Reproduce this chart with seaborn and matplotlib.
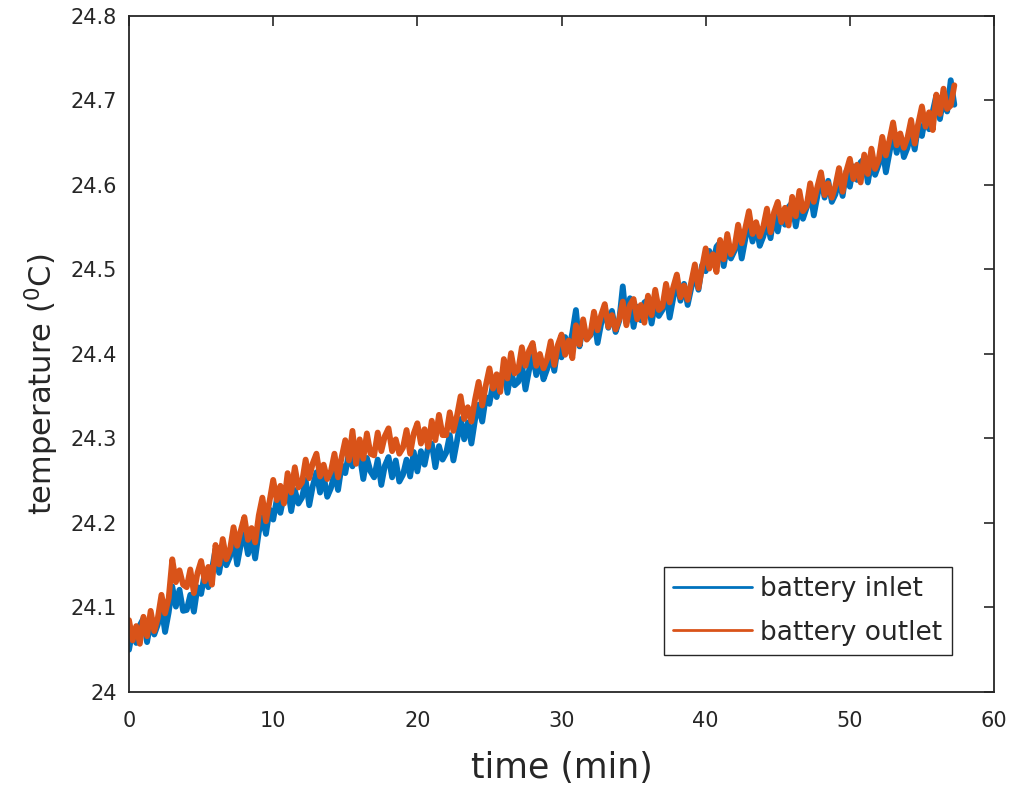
import numpy as np
import pandas as pd
import matplotlib
matplotlib.use('Agg')
import matplotlib.pyplot as plt
import seaborn as sns

# sample clock: one reading every 0.25 min
time_min = np.arange(230) * 0.25

# battery inlet temperature (deg C)
inlet = [
    24.050, 24.074, 24.058, 24.079, 24.087, 24.059, 24.084, 24.068,
    24.080, 24.101, 24.071, 24.094, 24.125, 24.101, 24.121, 24.096,
    24.097, 24.115, 24.095, 24.124, 24.116, 24.140, 24.124, 24.145,
    24.169, 24.141, 24.166, 24.150, 24.160, 24.181, 24.151, 24.174,
    24.187, 24.163, 24.183, 24.158, 24.189, 24.207, 24.187, 24.216,
    24.204, 24.228, 24.212, 24.233, 24.242, 24.214, 24.239, 24.223,
    24.230, 24.251, 24.221, 24.244, 24.260, 24.236, 24.256, 24.231,
    24.241, 24.259, 24.239, 24.268, 24.259, 24.283, 24.267, 24.288,
    24.280, 24.252, 24.277, 24.261, 24.254, 24.275, 24.245, 24.268,
    24.278, 24.254, 24.274, 24.249, 24.257, 24.275, 24.255, 24.284,
    24.261, 24.285, 24.269, 24.290, 24.294, 24.266, 24.291, 24.275,
    24.283, 24.304, 24.274, 24.297, 24.323, 24.299, 24.319, 24.294,
    24.322, 24.340, 24.320, 24.349, 24.341, 24.365, 24.349, 24.370,
    24.382, 24.354, 24.379, 24.363, 24.367, 24.388, 24.358, 24.381,
    24.399, 24.375, 24.395, 24.370, 24.382, 24.400, 24.380, 24.409,
    24.396, 24.420, 24.404, 24.425, 24.452, 24.409, 24.434, 24.418,
    24.422, 24.443, 24.413, 24.436, 24.455, 24.431, 24.451, 24.426,
    24.439, 24.480, 24.437, 24.466, 24.432, 24.456, 24.440, 24.461,
    24.464, 24.436, 24.461, 24.445, 24.452, 24.473, 24.443, 24.466,
    24.487, 24.463, 24.483, 24.458, 24.478, 24.496, 24.476, 24.505,
    24.498, 24.522, 24.506, 24.527, 24.532, 24.504, 24.529, 24.513,
    24.522, 24.543, 24.513, 24.536, 24.557, 24.533, 24.553, 24.528,
    24.539, 24.557, 24.537, 24.566, 24.545, 24.569, 24.553, 24.574,
    24.579, 24.551, 24.576, 24.560, 24.573, 24.594, 24.564, 24.587,
    24.609, 24.585, 24.605, 24.580, 24.589, 24.607, 24.587, 24.616,
    24.598, 24.622, 24.606, 24.627, 24.631, 24.603, 24.628, 24.612,
    24.624, 24.645, 24.615, 24.638, 24.662, 24.638, 24.658, 24.633,
    24.644, 24.662, 24.642, 24.671, 24.658, 24.682, 24.666, 24.687,
    24.706, 24.678, 24.703, 24.687, 24.724, 24.695,
]

# battery outlet temperature (deg C)
outlet = [
    24.085, 24.061, 24.078, 24.057, 24.089, 24.066, 24.096, 24.072,
    24.088, 24.115, 24.093, 24.111, 24.157, 24.130, 24.144, 24.127,
    24.124, 24.145, 24.117, 24.141, 24.155, 24.131, 24.148, 24.127,
    24.174, 24.151, 24.181, 24.157, 24.168, 24.195, 24.173, 24.191,
    24.207, 24.180, 24.194, 24.177, 24.209, 24.230, 24.202, 24.226,
    24.251, 24.227, 24.244, 24.223, 24.259, 24.236, 24.266, 24.242,
    24.248, 24.275, 24.253, 24.271, 24.282, 24.255, 24.269, 24.252,
    24.261, 24.282, 24.254, 24.278, 24.298, 24.274, 24.309, 24.270,
    24.299, 24.276, 24.306, 24.282, 24.280, 24.307, 24.285, 24.303,
    24.312, 24.285, 24.299, 24.282, 24.289, 24.310, 24.282, 24.306,
    24.318, 24.294, 24.311, 24.290, 24.321, 24.298, 24.328, 24.304,
    24.304, 24.331, 24.309, 24.327, 24.350, 24.323, 24.337, 24.320,
    24.346, 24.367, 24.339, 24.363, 24.383, 24.359, 24.376, 24.355,
    24.394, 24.371, 24.401, 24.377, 24.381, 24.408, 24.386, 24.404,
    24.413, 24.386, 24.400, 24.383, 24.394, 24.415, 24.387, 24.411,
    24.423, 24.399, 24.416, 24.395, 24.434, 24.411, 24.441, 24.417,
    24.423, 24.450, 24.428, 24.446, 24.459, 24.432, 24.446, 24.429,
    24.441, 24.462, 24.434, 24.458, 24.465, 24.441, 24.458, 24.437,
    24.469, 24.446, 24.476, 24.452, 24.456, 24.483, 24.461, 24.479,
    24.494, 24.467, 24.481, 24.464, 24.485, 24.506, 24.478, 24.502,
    24.525, 24.501, 24.518, 24.497, 24.535, 24.512, 24.542, 24.518,
    24.526, 24.553, 24.531, 24.549, 24.569, 24.542, 24.556, 24.539,
    24.551, 24.572, 24.544, 24.568, 24.580, 24.556, 24.573, 24.552,
    24.586, 24.563, 24.593, 24.569, 24.575, 24.602, 24.580, 24.598,
    24.615, 24.588, 24.602, 24.585, 24.599, 24.620, 24.592, 24.616,
    24.631, 24.607, 24.624, 24.603, 24.636, 24.613, 24.643, 24.619,
    24.630, 24.657, 24.635, 24.653, 24.674, 24.647, 24.661, 24.644,
    24.656, 24.677, 24.649, 24.673, 24.693, 24.669, 24.686, 24.665,
    24.707, 24.684, 24.714, 24.690, 24.694, 24.718,
]

series_names = ['battery inlet', 'battery outlet']
series_colors = ['#0072BD', '#D95319']

x_ticks = [0, 10, 20, 30, 40, 50, 60]
y_ticks = [24.0, 24.1, 24.2, 24.3, 24.4, 24.5, 24.6, 24.7, 24.8]
y_ticklabels = ['24', '24.1', '24.2', '24.3', '24.4', '24.5', '24.6', '24.7', '24.8']

sns.set_style('white')
plt.rcParams['font.family'] = ['DejaVu Sans']
plt.rcParams['mathtext.default'] = 'regular'

fig = plt.figure(figsize=(10.12, 7.92), dpi=100)
ax = fig.add_axes([0.1275, 0.1263, 0.8547, 0.8535])

for name, vals, color in zip(series_names, [inlet, outlet], series_colors):
    sns.lineplot(x=time_min, y=vals, ax=ax, color=color, lw=4.2,
                 label=name, estimator=None, sort=False)

ax.set_xlim(0, 60)
ax.set_ylim(24, 24.8)
ax.set_xticks(x_ticks)
ax.set_yticks(y_ticks)
ax.set_yticklabels(y_ticklabels)
ax.tick_params(direction='in', length=7, width=1.2, labelsize=15,
               colors='#262626', top=True, right=True)
ax.tick_params(axis='x', pad=14)
ax.tick_params(axis='y', pad=9)
for s in ax.spines.values():
    s.set_color('#262626')
    s.set_linewidth(1.3)

ax.set_xlabel('time (min)', fontsize=25, color='#262626')
ax.xaxis.set_label_coords(0.5, -0.088)
ax.set_ylabel('temperature ($^0$C)', fontsize=22, color='#262626')
ax.yaxis.set_label_coords(-0.079, 0.455)

leg = ax.legend(loc='lower right', bbox_to_anchor=(0.951, 0.055), borderaxespad=0,
                fontsize=19, frameon=True, fancybox=False, edgecolor='#262626',
                framealpha=1, handlelength=3.0, handletextpad=0.3,
                borderpad=0.35, labelspacing=0.65)
leg.get_frame().set_linewidth(1.0)
for line in leg.get_lines():
    line.set_linewidth(2)

fig.savefig('out.png', dpi=100)
